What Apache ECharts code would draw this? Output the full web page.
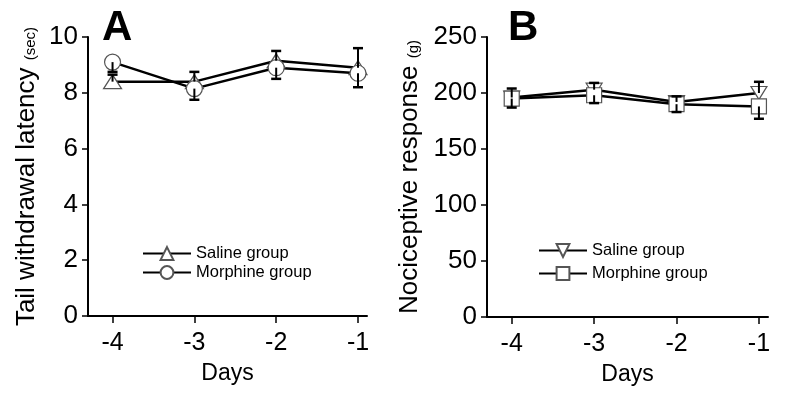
<!DOCTYPE html>
<html>
<head>
<meta charset="utf-8">
<script src="https://cdn.jsdelivr.net/npm/echarts@6/dist/echarts.min.js"></script>
<style>
html, body { margin: 0; padding: 0; background: #fff; }
#chart { width: 800px; height: 399px; }
</style>
</head>
<body>
<div id="chart"></div>
<script>
const days = [-4, -3, -2, -1]

// panel A: tail withdrawal latency (sec)
const latencySaline = [8.4, 8.4, 9.15, 8.9]
const latencySalineErr = [0.25, 0.35, 0.35, 0.7]
const latencyMorphine = [9.1, 8.15, 8.9, 8.7]
const latencyMorphineErr = [0.35, 0.4, 0.4, 0.5]

// panel B: nociceptive response (g)
const responseSaline = [196, 203, 192, 200]
const responseSalineErr = [8, 6, 5, 10]
const responseMorphine = [195, 198, 190, 188]
const responseMorphineErr = [8, 7, 7, 11]

const font = 'Liberation Sans, Arial, sans-serif'
const downTriangle = 'path://M0,0 L10,0 L5,8 Z'

const chart = echarts.init(document.getElementById('chart'))

// dir = 1 draws the bar upward, -1 downward
function errData (vals, errs, dir) {
  return days.map((d, i) => [d, vals[i], vals[i] + dir * errs[i]])
}

function renderErr (params, api) {
  const p0 = api.coord([api.value(0), api.value(1)])
  const p1 = api.coord([api.value(0), api.value(2)])
  const cap = 5
  return {
    type: 'group',
    children: [
      { type: 'line', shape: { x1: p0[0], y1: p0[1], x2: p1[0], y2: p1[1] }, style: { stroke: '#000', lineWidth: 2 } },
      { type: 'line', shape: { x1: p1[0] - cap, y1: p1[1], x2: p1[0] + cap, y2: p1[1] }, style: { stroke: '#000', lineWidth: 2.5 } }
    ]
  }
}

function xAxis (gridIndex) {
  return {
    type: 'value',
    gridIndex: gridIndex,
    min: -4.3,
    max: -0.89,
    name: 'Days',
    nameLocation: 'middle',
    nameGap: 46,
    nameTextStyle: { color: '#000', fontSize: 23, fontFamily: font },
    splitLine: { show: false },
    axisLine: { lineStyle: { color: '#000', width: 2 } },
    axisTick: { length: 7, lineStyle: { color: '#000', width: 1.5 }, customValues: days },
    axisLabel: { color: '#000', fontSize: 25, fontFamily: font, margin: 15, customValues: days }
  }
}

function yAxis (gridIndex, max, interval, name, nameGap) {
  return {
    type: 'value',
    gridIndex: gridIndex,
    min: 0,
    max: max,
    interval: interval,
    name: name,
    nameLocation: 'middle',
    nameRotate: 90,
    nameGap: nameGap,
    nameTextStyle: {
      color: '#000',
      fontSize: 26,
      fontFamily: font,
      rich: { s: { fontSize: 15, fontFamily: font, color: '#000', verticalAlign: 'bottom', padding: [0, 0, 2, 0] } }
    },
    splitLine: { show: false },
    axisLine: { show: true, lineStyle: { color: '#000', width: 2 } },
    axisTick: { show: true, length: 6, lineStyle: { color: '#000', width: 1.5 } },
    axisLabel: { color: '#000', fontSize: 26, fontFamily: font, margin: 10 }
  }
}

function lineSeries (name, axis, data, symbol, size) {
  return {
    name: name,
    type: 'line',
    xAxisIndex: axis,
    yAxisIndex: axis,
    data: days.map((d, i) => [d, data[i]]),
    symbol: symbol,
    symbolSize: size,
    showAllSymbol: true,
    z: 3,
    lineStyle: { color: '#000', width: 2.5 },
    itemStyle: { color: '#fff', borderColor: '#555', borderWidth: 1.2 }
  }
}

function errSeries (axis, data) {
  return {
    type: 'custom',
    xAxisIndex: axis,
    yAxisIndex: axis,
    renderItem: renderErr,
    data: data,
    z: 4,
    silent: true
  }
}

function legend (names, left, top, gap) {
  return {
    data: names,
    orient: 'vertical',
    left: left,
    top: top,
    padding: 0,
    itemWidth: 48,
    itemHeight: 16,
    itemGap: gap,
    selectedMode: false,
    formatter: n => n.slice(3),
    textStyle: { color: '#000', fontSize: 16.5, fontFamily: font }
  }
}

chart.setOption({
  animation: false,
  backgroundColor: '#fff',
  title: [
    { text: 'A', left: 97, top: 2, textStyle: { fontSize: 42, fontWeight: 'bold', color: '#000', fontFamily: font } },
    { text: 'B', left: 503, top: 2, textStyle: { fontSize: 42, fontWeight: 'bold', color: '#000', fontFamily: font } }
  ],
  legend: [
    legend(['A: Saline group', 'A: Morphine group'], 142, 245, 2),
    legend(['B: Saline group', 'B: Morphine group'], 538, 242, 6)
  ],
  grid: [
    { left: 88, top: 37, width: 279, height: 279 },
    { left: 487, top: 37, width: 281, height: 280 }
  ],
  xAxis: [xAxis(0), xAxis(1)],
  yAxis: [
    yAxis(0, 10, 2, 'Tail withdrawal latency {s|(sec)}', 48),
    yAxis(1, 250, 50, 'Nociceptive response {s|(g)}', 64)
  ],
  series: [
    lineSeries('A: Saline group', 0, latencySaline, 'triangle', [18, 14]),
    lineSeries('A: Morphine group', 0, latencyMorphine, 'circle', 16),
    errSeries(0, errData(latencySaline, latencySalineErr, 1)),
    errSeries(0, errData(latencyMorphine, latencyMorphineErr, -1)),
    lineSeries('B: Saline group', 1, responseSaline, downTriangle, [16, 13]),
    lineSeries('B: Morphine group', 1, responseMorphine, 'rect', 15),
    errSeries(1, errData(responseSaline, responseSalineErr, 1)),
    errSeries(1, errData(responseMorphine, responseMorphineErr, -1))
  ]
})
</script>
</body>
</html>
